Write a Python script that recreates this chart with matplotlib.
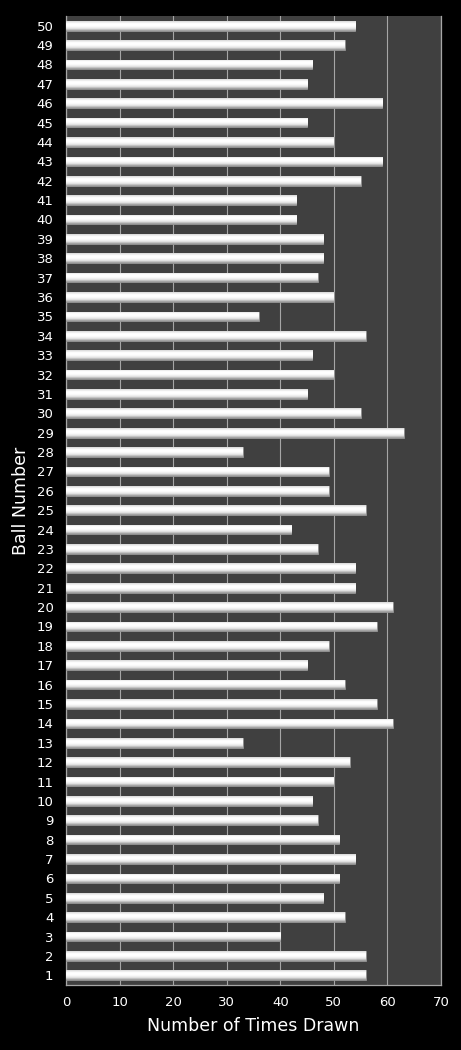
import numpy as np
import matplotlib
matplotlib.use("Agg")
import matplotlib.pyplot as plt
from matplotlib.colors import LinearSegmentedColormap

balls = list(range(1, 51))
times_drawn = [56, 56, 40, 52, 48, 51, 54, 51, 47, 46,
               50, 53, 33, 61, 58, 52, 45, 49, 58, 61,
               54, 54, 47, 42, 56, 49, 49, 33, 63, 55,
               45, 50, 46, 56, 36, 50, 47, 48, 48, 43,
               43, 55, 59, 50, 45, 59, 45, 46, 52, 54]
x_ticks = [0, 10, 20, 30, 40, 50, 60, 70]

fig = plt.figure(figsize=(4.61, 10.5), dpi=100, facecolor="black")
ax = fig.add_axes([66 / 461, 65 / 1050, 375 / 461, 969 / 1050])
ax.set_facecolor("#404040")

bars = ax.barh(balls, times_drawn, height=0.5, color="white",
               edgecolor="#8c8c8c", linewidth=0.6, zorder=3)

# glossy gradient on every bar (dark bottom, white middle, light top)
shade = LinearSegmentedColormap.from_list(
    "shade", ["#969696", "#e6e6e6", "#ffffff", "#ffffff", "#d8d8d8"])
grad = np.linspace(0, 1, 64).reshape(-1, 1)
for bar in bars:
    x0, y0, w, h = bar.get_x(), bar.get_y(), bar.get_width(), bar.get_height()
    im = ax.imshow(grad, cmap=shade, aspect="auto", origin="lower",
                   extent=[x0, x0 + w, y0, y0 + h], zorder=4)
    im.set_clip_path(bar)

ax.set_xlim(0, 70)
ax.set_ylim(0.5, 50.5)
ax.set_xticks(x_ticks)
ax.set_yticks(balls)
ax.set_yticklabels([str(b) for b in balls])

ax.grid(axis="x", color="#a6a6a6", linewidth=0.8, zorder=1)
ax.set_axisbelow(True)
ax.spines["top"].set_visible(False)
for side in ["left", "bottom", "right"]:
    ax.spines[side].set_color("#a6a6a6")
    ax.spines[side].set_linewidth(0.9)

ax.tick_params(axis="both", length=0, colors="white", labelsize=9.5)
ax.tick_params(axis="y", pad=9)
ax.tick_params(axis="x", pad=8)

ax.set_xlabel("Number of Times Drawn", color="white", fontsize=12.5, labelpad=6)
ax.set_ylabel("Ball Number", color="white", fontsize=12.5, labelpad=5)

fig.savefig("out.png", dpi=100, facecolor="black")
